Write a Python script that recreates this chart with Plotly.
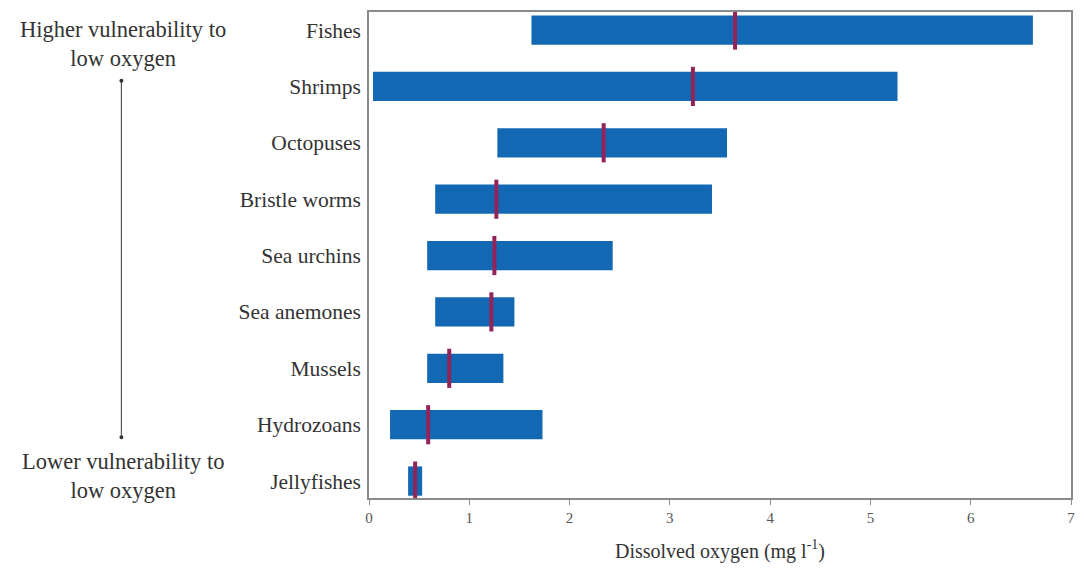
import plotly.graph_objects as go

categories = ["Jellyfishes", "Hydrozoans", "Mussels", "Sea anemones", "Sea urchins",
              "Bristle worms", "Octopuses", "Shrimps", "Fishes"]
low = [0.39, 0.21, 0.58, 0.66, 0.58, 0.66, 1.28, 0.04, 1.62]
high = [0.53, 1.73, 1.34, 1.45, 2.43, 3.42, 3.57, 5.27, 6.62]
median = [0.46, 0.59, 0.80, 1.22, 1.25, 1.27, 2.34, 3.23, 3.65]
x_ticks = [0, 1, 2, 3, 4, 5, 6, 7]

W, H = 1085, 577
L, R, T, B = 369, 10, 10, 79
pw, ph = W - L - R, H - T - B

def px(x):
    return (x - L) / pw

def py(y):
    return (H - B - y) / ph

fig = go.Figure()
fig.add_trace(go.Bar(
    y=categories, x=[h - l for l, h in zip(low, high)], base=low,
    orientation="h", width=0.52, marker=dict(color="#1268B3", line=dict(width=0)),
    showlegend=False, hoverinfo="skip"))
fig.add_trace(go.Scatter(
    y=categories, x=median, mode="markers",
    marker=dict(symbol="line-ns-open", size=28, color="#93245A",
                line=dict(width=4, color="#93245A")),
    showlegend=False, hoverinfo="skip"))

serif = "Liberation Serif, Times New Roman, serif"
fig.update_layout(
    width=W, height=H, margin=dict(l=L, r=R, t=T, b=B, pad=0),
    paper_bgcolor="white", plot_bgcolor="white",
    font=dict(family=serif, size=21, color="#333333"),
    xaxis=dict(range=[0, 7], tickvals=x_ticks, showgrid=False, zeroline=False,
               showline=True, linecolor="#8a8a8a", linewidth=1.5, mirror=True,
               ticks="outside", ticklen=5, tickcolor="#8a8a8a",
               tickfont=dict(family=serif, size=15, color="#555555"),
               title=dict(text="Dissolved oxygen (mg l<sup>-1</sup>)", standoff=19,
                          font=dict(family=serif, size=20, color="#333333"))),
    yaxis=dict(type="category", categoryorder="array", categoryarray=categories,
               range=[-0.3, 8.32], showgrid=False, zeroline=False,
               showline=True, linecolor="#8a8a8a", linewidth=1.5, mirror=True,
               ticks="", ticklabelstandoff=2,
               tickfont=dict(family=serif, size=21.5, color="#333333")),
)

cx = px(122)
fig.add_annotation(x=cx, y=py(42), xref="paper", yref="paper", showarrow=False,
                   xanchor="center", yanchor="middle",
                   text="Higher vulnerability to<br>low oxygen", align="center",
                   font=dict(family=serif, size=22.5, color="#333333"))
fig.add_annotation(x=cx, y=py(476), xref="paper", yref="paper", showarrow=False,
                   xanchor="center", yanchor="middle",
                   text="Lower vulnerability to<br>low oxygen", align="center",
                   font=dict(family=serif, size=22.5, color="#333333"))
lx = px(120)
fig.add_shape(type="line", xref="paper", yref="paper", x0=lx, x1=lx, y0=py(79), y1=py(437),
              line=dict(color="#555555", width=1.2))
for yy in (79, 437):
    fig.add_shape(type="circle", xref="paper", yref="paper",
                  x0=px(118), x1=px(122), y0=py(yy + 2), y1=py(yy - 2),
                  fillcolor="#333333", line=dict(width=0))

fig.write_html("out.html", config={"displayModeBar": False},
               post_script="document.body.style.margin='0';")
